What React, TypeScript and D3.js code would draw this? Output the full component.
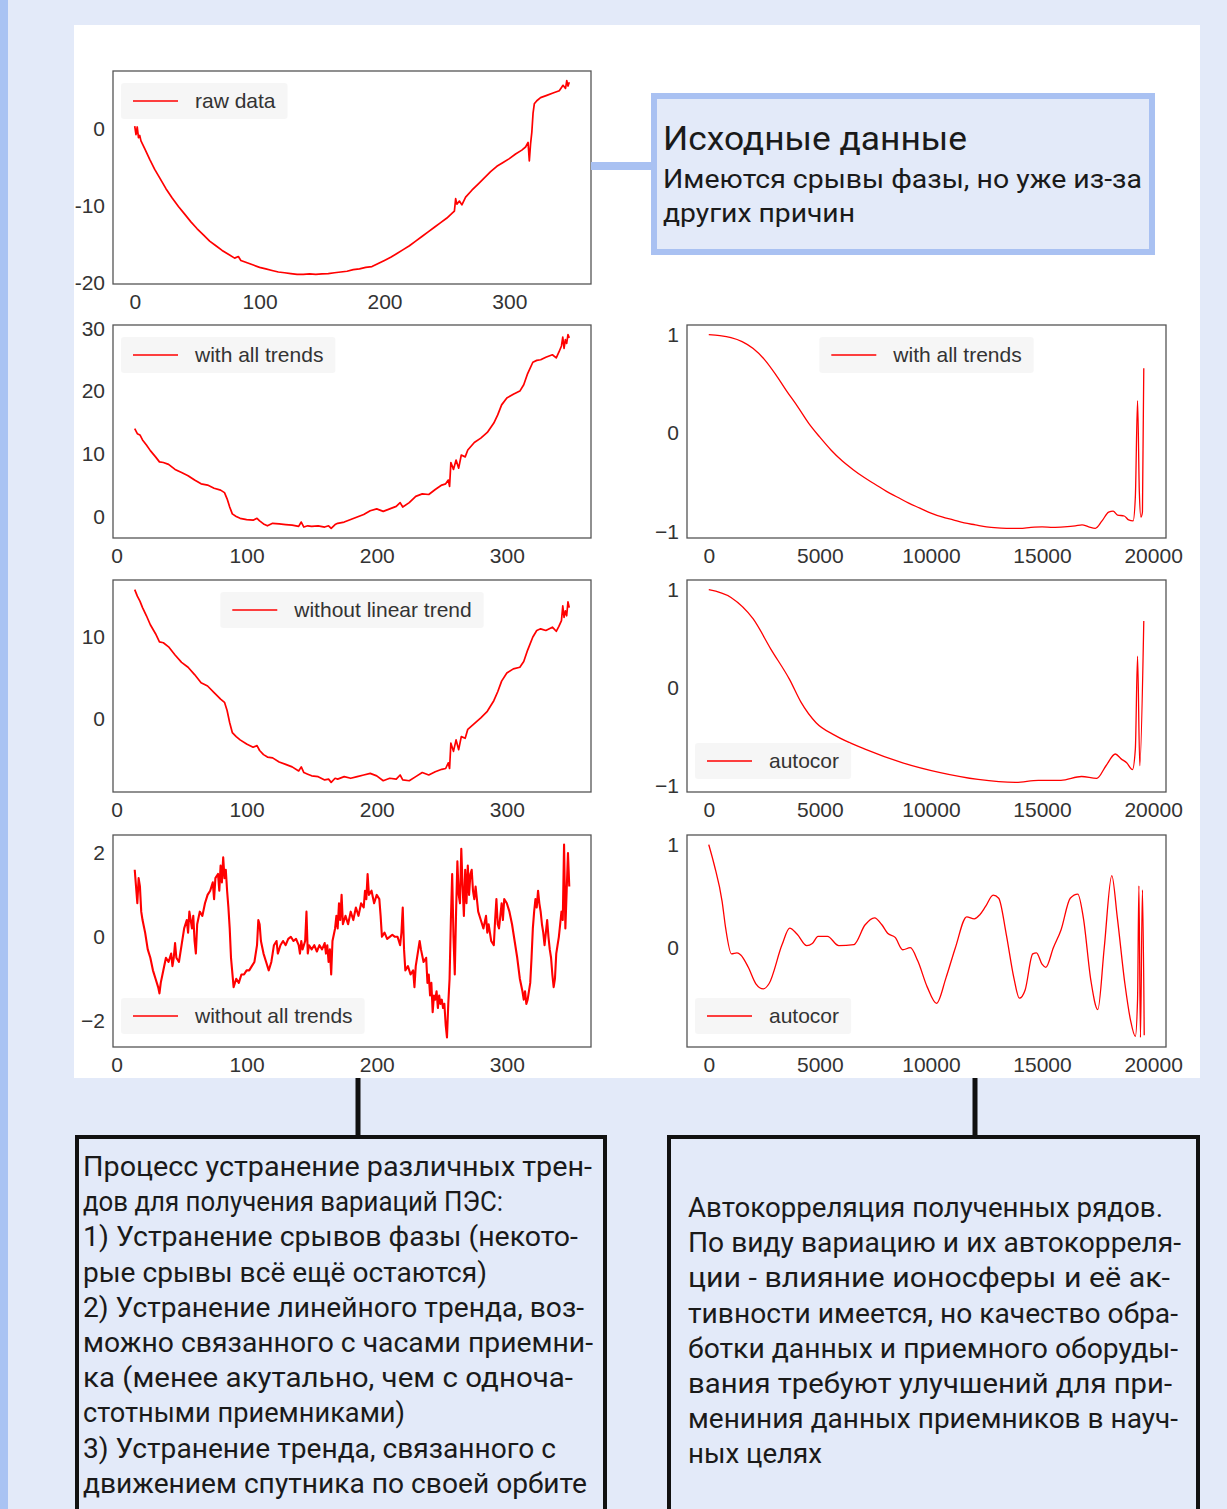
import React, { useEffect, useRef } from "react";
import * as d3 from "d3";

// --- исходные данные (raw data) ---
const rawX = [0, 1, 2, 3, 4, 5, 8, 12, 16, 20, 25, 30, 35, 40, 45, 50, 55, 60, 65, 70, 75, 80, 83, 85, 90, 95, 100, 105, 110, 115, 120, 125, 130, 135, 140, 145, 150, 155, 160, 165, 170, 175, 180, 185, 190, 195, 200, 205, 210, 215, 220, 225, 230, 235, 240, 245, 250, 254, 256, 257, 258, 260, 262, 265, 270, 275, 280, 285, 290, 295, 300, 305, 310, 313, 315, 316, 317, 318, 319, 320, 322, 325, 330, 335, 340, 343, 345, 346, 347, 348];
const rawY = [0.3, -0.8, 0.2, -1.2, -0.9, -1.6, -2.6, -4.0, -5.3, -6.4, -7.8, -9.0, -10.1, -11.1, -12.1, -13.0, -13.8, -14.6, -15.2, -15.8, -16.3, -16.8, -16.6, -17.1, -17.4, -17.7, -18.0, -18.2, -18.4, -18.6, -18.7, -18.8, -18.9, -18.9, -18.85, -18.9, -18.85, -18.8, -18.7, -18.6, -18.5, -18.3, -18.2, -18.0, -17.9, -17.5, -17.1, -16.7, -16.2, -15.7, -15.2, -14.6, -14.0, -13.4, -12.8, -12.2, -11.6, -11.0, -10.7, -9.1, -9.8, -9.4, -9.9, -8.9, -8.0, -7.2, -6.4, -5.6, -4.9, -4.4, -3.9, -3.3, -2.8, -2.4, -1.8, -4.2, -2.0, -0.5, 2.0, 3.2, 3.6, 4.0, 4.3, 4.6, 4.9, 5.6, 5.2, 6.2, 5.5, 6.0];

// --- with all trends / without linear trend ---
const trendX = [14, 16, 18, 20, 23, 26, 30, 33, 36, 40, 45, 50, 55, 60, 65, 70, 75, 80, 83, 85, 87, 89, 92, 95, 100, 105, 108, 110, 113, 116, 120, 125, 130, 135, 140, 142, 144, 147, 150, 155, 160, 163, 165, 168, 170, 175, 180, 185, 190, 195, 200, 205, 210, 215, 218, 220, 225, 230, 235, 240, 245, 250, 253, 255, 256, 257, 259, 261, 263, 265, 268, 270, 275, 280, 285, 290, 293, 296, 300, 305, 310, 313, 316, 320, 323, 326, 330, 335, 338, 340, 342, 343, 344, 345, 346, 347, 348];
const allTrendsY = [14.0, 13.2, 13.0, 12.2, 11.4, 10.5, 9.5, 8.7, 8.6, 8.3, 7.5, 7.0, 6.5, 5.8, 5.2, 5.0, 4.5, 4.2, 3.8, 2.8, 1.5, 0.4, 0.0, -0.3, -0.5, -0.6, -0.3, -0.7, -1.2, -1.5, -1.1, -1.2, -1.3, -1.4, -1.6, -0.9, -1.7, -1.5, -1.6, -1.5, -1.7, -1.5, -1.9, -1.3, -1.1, -0.9, -0.5, -0.1, 0.3, 0.9, 1.2, 0.8, 1.2, 1.6, 2.2, 1.5, 2.2, 3.2, 3.6, 3.5, 4.3, 5.0, 5.2, 5.8, 4.8, 8.6, 7.5, 9.0, 7.7, 9.8, 9.5, 10.6, 11.8, 12.5, 13.4, 14.9, 16.2, 17.8, 18.9, 19.5, 20.0, 21.0, 22.8, 24.6, 24.9, 25.0, 25.4, 25.8, 25.3, 26.2, 27.2, 28.6, 26.8, 28.2, 27.6, 29.0, 28.5];
const noLinearY = [15.8, 15.0, 14.4, 13.6, 12.6, 11.5, 10.4, 9.4, 9.3, 8.8, 7.8, 6.9, 6.3, 5.4, 4.4, 4.0, 3.2, 2.4, 2.0, 1.0, -0.5, -1.7, -2.2, -2.6, -3.1, -3.5, -3.3, -3.9, -4.4, -4.7, -4.8, -5.3, -5.6, -5.9, -6.4, -5.9, -6.6, -6.8, -7.0, -7.1, -7.5, -7.4, -7.8, -7.3, -7.4, -7.1, -7.3, -7.1, -6.9, -6.7, -7.0, -7.6, -7.3, -7.4, -6.9, -7.5, -7.6, -7.1, -6.6, -6.9, -6.5, -6.2, -6.1, -5.4, -6.1, -3.0, -4.0, -2.6, -3.8, -2.2, -2.4, -1.3, -0.6, 0.1, 0.9, 2.2, 3.3, 4.6, 5.6, 6.1, 6.3, 7.0, 8.4, 10.0, 10.8, 11.0, 10.8, 11.2, 10.7, 11.3, 12.0, 13.8, 12.4, 13.2, 12.6, 14.3, 13.6];

// --- without all trends ---
const detX = [14, 15, 16, 17, 18, 19, 20, 22, 24, 26, 28, 30, 32, 33, 34, 36, 38, 40, 42, 43, 44, 45, 46, 48, 50, 52, 54, 55, 56, 58, 59, 60, 61, 62, 64, 66, 68, 70, 72, 74, 75, 76, 78, 79, 80, 81, 82, 83, 84, 85, 86, 87, 88, 90, 92, 94, 96, 98, 100, 102, 104, 106, 108, 109, 110, 111, 113, 115, 117, 119, 120, 121, 123, 124, 126, 128, 130, 132, 134, 136, 138, 140, 141, 142, 143, 145, 146, 147, 148, 150, 152, 154, 156, 158, 160, 161, 162, 163, 164, 165, 166, 168, 169, 170, 171, 172, 173, 174, 176, 178, 180, 182, 184, 186, 188, 190, 191, 192, 193, 194, 196, 198, 200, 202, 203, 204, 206, 208, 210, 212, 214, 216, 218, 219, 220, 221, 222, 224, 226, 228, 229, 230, 232, 233, 234, 236, 238, 239, 240, 241, 242, 243, 244, 245, 246, 247, 248, 249, 250, 251, 252, 253, 254, 255, 256, 257, 258, 259, 260, 261, 262, 263, 264, 265, 266, 267, 268, 269, 270, 271, 272, 273, 274, 275, 276, 278, 280, 282, 284, 285, 286, 288, 290, 291, 292, 293, 294, 295, 296, 297, 298, 300, 302, 304, 306, 308, 310, 312, 313, 314, 315, 316, 318, 319, 320, 321, 322, 323, 324, 325, 326, 327, 328, 329, 330, 331, 332, 333, 334, 335, 336, 337, 338, 339, 340, 341, 342, 343, 344, 345, 346, 347, 348];
const detY = [1.6, 1.2, 0.8, 1.4, 1.2, 0.6, 0.4, 0.1, -0.3, -0.5, -0.8, -1.0, -1.2, -1.35, -1.1, -0.8, -0.5, -0.6, -0.4, -0.7, -0.5, -0.15, -0.5, -0.6, -0.2, 0.2, 0.4, 0.1, 0.6, 0.2, 0.5, -0.1, -0.4, 0.3, 0.6, 0.5, 0.8, 1.0, 1.1, 1.3, 0.9, 1.4, 1.5, 1.1, 1.7, 1.3, 1.9, 1.4, 1.6, 1.1, 0.7, 0.2, -0.5, -1.2, -1.0, -1.1, -0.9, -0.9, -0.8, -0.8, -0.7, -0.6, -0.2, 0.4, 0.3, -0.1, -0.4, -0.6, -0.8, -0.6, -0.4, -0.2, -0.1, -0.4, -0.2, -0.1, -0.2, -0.05, 0.0, -0.1, -0.05, -0.2, -0.4, -0.1, -0.3, -0.1, 0.6, -0.4, -0.2, -0.3, -0.2, -0.35, -0.2, -0.3, -0.15, -0.4, -0.2, -0.6, -0.3, -0.9, -0.1, 0.2, 0.5, 0.2, 0.8, 0.4, 1.0, 0.3, 0.5, 0.3, 0.6, 0.4, 0.7, 0.5, 0.8, 0.7, 1.1, 0.9, 1.5, 1.0, 1.1, 0.8, 1.0, 0.9, 0.5, 0.0, 0.1, -0.05, 0.0, 0.05, 0.0, 0.0, -0.2, 0.1, 0.7, -0.3, -0.8, -0.7, -0.9, -0.8, -1.2, -0.7, -0.3, -0.1, -0.3, -0.6, -0.5, -1.1, -0.9, -1.4, -1.1, -1.8, -1.4, -1.5, -1.3, -1.7, -1.4, -1.6, -1.5, -1.7, -1.6, -2.1, -2.4, -1.6, -1.0, 0.4, 1.5, 0.0, -0.9, 0.6, 1.8, 1.0, 0.8, 2.1, 1.2, 0.5, 1.6, 0.8, 1.7, 1.0, 1.5, 1.6, 1.1, 0.9, 1.2, 0.6, 0.4, 0.2, 0.5, 0.1, 0.3, -0.1, -0.2, 0.4, 0.9, 0.3, 0.2, 0.5, 0.8, 0.4, 0.9, 0.8, 0.6, 0.3, -0.1, -0.5, -1.0, -1.3, -1.5, -1.3, -1.6, -1.5, -1.1, -0.5, 0.2, 0.6, 0.9, 0.7, 1.1, 0.8, 0.6, 0.3, 0.1, -0.2, 0.1, 0.4, 0.0, -0.3, -0.5, -0.9, -1.2, -1.0, -0.4, -0.2, 0.0, 0.3, 0.6, 0.4, 2.2, 0.2, 1.1, 2.0, 1.2];

// --- autocorrelation ---
const acAllX = [0, 500, 1000, 1500, 2000, 2500, 3000, 3500, 4000, 4500, 5000, 5500, 6000, 6500, 7000, 7500, 8000, 8500, 9000, 9500, 10000, 10500, 11000, 11500, 12000, 12500, 13000, 13500, 14000, 14500, 15000, 15500, 16000, 16500, 16800, 17100, 17400, 17700, 18000, 18200, 18400, 18700, 18900, 19100, 19200, 19300, 19380, 19450, 19520, 19580];
const acAllY = [1.0, 0.99, 0.97, 0.93, 0.86, 0.75, 0.6, 0.43, 0.27, 0.1, -0.04, -0.17, -0.28, -0.37, -0.45, -0.52, -0.59, -0.65, -0.71, -0.76, -0.81, -0.85, -0.88, -0.91, -0.93, -0.95, -0.96, -0.965, -0.965, -0.955, -0.95, -0.955, -0.95, -0.94, -0.93, -0.95, -0.965, -0.89, -0.8, -0.79, -0.83, -0.84, -0.88, -0.89, -0.65, 0.33, -0.6, -0.85, -0.8, 0.66];

const acLinX = [0, 1000, 2000, 2800, 3640, 4150, 4830, 5680, 7030, 8730, 10420, 12120, 13810, 14830, 15850, 16780, 17460, 17880, 18300, 18560, 18810, 19070, 19200, 19300, 19400, 19580];
const acLinY = [1.0, 0.92, 0.7, 0.39, 0.08, -0.15, -0.36, -0.49, -0.63, -0.77, -0.87, -0.94, -0.97, -0.95, -0.95, -0.91, -0.93, -0.8, -0.68, -0.73, -0.77, -0.84, -0.63, 0.32, -0.8, 0.68];

const acDetX = [0, 250, 600, 760, 1020, 1270, 1440, 1780, 2120, 2460, 2710, 3300, 3640, 3980, 4410, 4660, 4920, 5340, 5850, 6530, 7030, 7460, 7800, 8050, 8390, 8730, 9070, 9410, 9830, 10250, 10680, 11100, 11610, 11950, 12200, 12460, 12800, 13050, 13390, 13730, 13980, 14240, 14580, 14750, 15000, 15170, 15510, 15850, 16270, 16610, 16860, 17200, 17510, 17800, 18140, 18390, 18730, 18980, 19200, 19300, 19360, 19430, 19520, 19600];
const acDetY = [1.0, 0.8, 0.45, 0.19, -0.06, -0.05, -0.07, -0.19, -0.35, -0.4, -0.35, 0.03, 0.19, 0.13, 0.02, 0.04, 0.11, 0.11, 0.02, 0.03, 0.22, 0.29, 0.22, 0.14, 0.1, -0.02, 0.0, -0.13, -0.38, -0.54, -0.29, 0.0, 0.3, 0.28, 0.32, 0.4, 0.51, 0.48, 0.13, -0.29, -0.49, -0.41, -0.06, -0.05, -0.16, -0.19, 0.0, 0.17, 0.48, 0.52, 0.29, -0.32, -0.6, 0.0, 0.7, 0.29, -0.35, -0.7, -0.86, -0.5, 0.6, -0.87, 0.56, -0.85];

// --- ticks / legends ---
const leftXTicks = [0, 100, 200, 300];
const rightXTicks = [0, 5000, 10000, 15000, 20000];
const rawYTicks = [-20, -10, 0];
const allYTicks = [0, 10, 20, 30];
const noLinYTicks = [0, 10];
const detYTicks = [-2, 0, 2];
const acYTicks = [-1, 0, 1];
const acDetYTicks = [0, 1];

// --- текст ---
const topTitle = "Исходные данные";
const topLines = ["Имеются срывы фазы, но уже из-за", "других причин"];
const leftLines = [
  "Процесс устранение различных трен-",
  "дов для получения вариаций ПЭС:",
  "1) Устранение срывов фазы (некото-",
  "рые срывы всё ещё остаются)",
  "2) Устранение линейного тренда, воз-",
  "можно связанного с часами приемни-",
  "ка (менее акутально, чем с одноча-",
  "стотными приемниками)",
  "3) Устранение тренда, связанного с",
  "движением спутника по своей орбите",
];
const rightLines = [
  "Автокорреляция полученных рядов.",
  "По виду вариацию и их автокорреля-",
  "ции - влияние ионосферы и её ак-",
  "тивности имеется, но качество обра-",
  "ботки данных и приемного оборуды-",
  "вания требуют улучшений для при-",
  "мениния данных приемников в науч-",
  "ных целях",
];
// ширины строк (подгонка под макет)
const leftWidths = [509, 420, 495, 404, 501, 510, 490, 322, 473, 504];
const rightWidths = [475, 493, 482, 490, 490, 484, 490, 134];

const W = 1227;
const H = 1509;
const TICK_FONT = "'Liberation Sans', Arial, sans-serif";
const NOTE_FONT = "Roboto, 'Noto Sans', sans-serif";

const padExtent = (v: number[]) => {
  const [lo, hi] = d3.extent(v) as [number, number];
  const p = (hi - lo) * 0.05;
  return [lo - p, hi + p];
};

export default function App() {
  const svgRef = useRef<SVGSVGElement>(null);

  useEffect(() => {
    const svg = d3.select(svgRef.current);
    svg.selectAll("*").remove();

    // фон
    svg.append("rect").attr("width", W).attr("height", H).attr("fill", "#e3eaf9");
    svg.append("rect").attr("width", 8).attr("height", H).attr("fill", "#a9c3f3");
    svg.append("rect").attr("x", 74).attr("y", 25).attr("width", 1126).attr("height", 1053).attr("fill", "#fff");

    const rightXDomain = padExtent([...acAllX, ...acLinX, ...acDetX]);

    const panel = (o: any) => {
      const { x0, x1, y0, y1 } = o;
      const x = d3.scaleLinear().domain(o.xDomain).range([x0, x1]);
      const y = d3.scaleLinear().domain(padExtent(o.ys)).range([y1, y0]);
      const g = svg.append("g");

      g.append("clipPath").attr("id", o.id).append("rect")
        .attr("x", x0).attr("y", y0).attr("width", x1 - x0).attr("height", y1 - y0);

      const pts = o.xs.map((d: number, i: number) => [d, o.ys[i]]);
      const line = d3.line<number[]>().x((d) => x(d[0])).y((d) => y(d[1])).curve(o.curve || d3.curveLinear);
      g.append("path")
        .attr("d", line(pts))
        .attr("fill", "none")
        .attr("stroke", "red")
        .attr("stroke-width", o.sw || 1.5)
        .attr("stroke-linejoin", "round")
        .attr("clip-path", `url(#${o.id})`);

      // оси
      const ax = g.append("g").attr("transform", `translate(0,${y1})`)
        .call(d3.axisBottom(x).tickValues(o.xTicks).tickSize(0).tickPadding(10).tickFormat(d3.format("d")));
      const ay = g.append("g").attr("transform", `translate(${x0},0)`)
        .call(d3.axisLeft(y).tickValues(o.yTicks).tickSize(0).tickPadding(8).tickFormat(o.yFmt || d3.format("d")));
      [ax, ay].forEach((a) => {
        a.select(".domain").remove();
        a.attr("font-size", 21).attr("font-family", TICK_FONT).attr("color", "#333");
      });

      g.append("rect")
        .attr("x", x0).attr("y", y0).attr("width", x1 - x0).attr("height", y1 - y0)
        .attr("fill", "none").attr("stroke", "#555").attr("stroke-width", 1.3);

      // легенда
      const lg = g.append("g");
      const bg = lg.append("rect");
      const txt = lg.append("text").text(o.label)
        .attr("font-size", 21).attr("font-family", TICK_FONT).attr("fill", "#333").attr("dy", "0.35em");
      const tw = (txt.node() as SVGTextElement).getComputedTextLength();
      const total = 62 + tw;
      let lx = x0 + 20;
      if (o.loc === "upper center") lx = (x0 + x1) / 2 - total / 2;
      const ly = o.loc === "lower left" ? y1 - 31 : y0 + 30;
      bg.attr("x", lx - 12).attr("y", ly - 18).attr("width", total + 24).attr("height", 36)
        .attr("rx", 3).attr("fill", "#f2f2f2").attr("opacity", 0.7);
      lg.append("line").attr("x1", lx).attr("x2", lx + 45).attr("y1", ly).attr("y2", ly)
        .attr("stroke", "red").attr("stroke-width", 1.5);
      txt.attr("x", lx + 62).attr("y", ly);
    };

    const L = { x0: 113, x1: 591 };
    const R = { x0: 687, x1: 1166 };
    const rows = [[71, 284], [325, 538], [580, 792], [835, 1047]];

    panel({ id: "c1", ...L, y0: rows[0][0], y1: rows[0][1], xs: rawX, ys: rawY, xDomain: padExtent(rawX),
      xTicks: leftXTicks, yTicks: rawYTicks, yFmt: (d: number) => String(d), label: "raw data", loc: "upper left", sw: 1.7 });
    panel({ id: "c2", ...L, y0: rows[1][0], y1: rows[1][1], xs: trendX, ys: allTrendsY, xDomain: padExtent(trendX),
      xTicks: leftXTicks, yTicks: allYTicks, label: "with all trends", loc: "upper left", sw: 1.7 });
    panel({ id: "c3", ...L, y0: rows[2][0], y1: rows[2][1], xs: trendX, ys: noLinearY, xDomain: padExtent(trendX),
      xTicks: leftXTicks, yTicks: noLinYTicks, label: "without linear trend", loc: "upper center", sw: 1.7 });
    panel({ id: "c4", ...L, y0: rows[3][0], y1: rows[3][1], xs: detX, ys: detY, xDomain: padExtent(detX),
      xTicks: leftXTicks, yTicks: detYTicks, label: "without all trends", loc: "lower left", sw: 2.1 });
    panel({ id: "c5", ...R, y0: rows[1][0], y1: rows[1][1], xs: acAllX, ys: acAllY, xDomain: rightXDomain,
      xTicks: rightXTicks, yTicks: acYTicks, label: "with all trends", loc: "upper center", curve: d3.curveMonotoneX, sw: 1.3 });
    panel({ id: "c6", ...R, y0: rows[2][0], y1: rows[2][1], xs: acLinX, ys: acLinY, xDomain: rightXDomain,
      xTicks: rightXTicks, yTicks: acYTicks, label: "autocor", loc: "lower left", curve: d3.curveMonotoneX, sw: 1.3 });
    panel({ id: "c7", ...R, y0: rows[3][0], y1: rows[3][1], xs: acDetX, ys: acDetY, xDomain: rightXDomain,
      xTicks: rightXTicks, yTicks: acDetYTicks, label: "autocor", loc: "lower left", curve: d3.curveMonotoneX, sw: 1.3 });

    // верхняя подпись
    svg.append("line").attr("x1", 591).attr("x2", 652).attr("y1", 166).attr("y2", 166)
      .attr("stroke", "#a9c1f2").attr("stroke-width", 8);
    svg.append("rect").attr("x", 654).attr("y", 96).attr("width", 498).attr("height", 156)
      .attr("fill", "#e3eaf9").attr("stroke", "#a9c1f2").attr("stroke-width", 6);
    svg.append("text").text(topTitle).attr("x", 663).attr("y", 150)
      .attr("font-family", NOTE_FONT).attr("font-size", 33).attr("fill", "#1a1a1a")
      .attr("textLength", 304).attr("lengthAdjust", "spacingAndGlyphs");
    topLines.forEach((t, i) => {
      svg.append("text").text(t).attr("x", 663).attr("y", 188 + i * 34)
        .attr("font-family", NOTE_FONT).attr("font-size", 25).attr("fill", "#1a1a1a")
        .attr("textLength", i === 0 ? 479 : 192).attr("lengthAdjust", "spacingAndGlyphs");
    });

    // нижние блоки
    const noteBox = (bx: number, bw: number, cx: number, tx: number, lines: string[], widths: number[], top: number) => {
      svg.append("line").attr("x1", cx).attr("x2", cx).attr("y1", 1078).attr("y2", 1137)
        .attr("stroke", "#111").attr("stroke-width", 5);
      svg.append("rect").attr("x", bx).attr("y", 1137).attr("width", bw).attr("height", 420)
        .attr("fill", "#e3eaf9").attr("stroke", "#111").attr("stroke-width", 4);
      lines.forEach((t, i) => {
        svg.append("text").text(t).attr("x", tx).attr("y", top + i * 35.2)
          .attr("font-family", NOTE_FONT).attr("font-size", 28).attr("fill", "#1a1a1a")
          .attr("textLength", widths[i]).attr("lengthAdjust", "spacingAndGlyphs");
      });
    };
    noteBox(77, 528, 358, 83, leftLines, leftWidths, 1176);
    noteBox(669, 529, 975, 688, rightLines, rightWidths, 1217);
  }, []);

  return (
    <div style={{ position: "absolute", left: 0, top: 0 }}>
      <svg ref={svgRef} width={W} height={H} style={{ display: "block" }} />
    </div>
  );
}
